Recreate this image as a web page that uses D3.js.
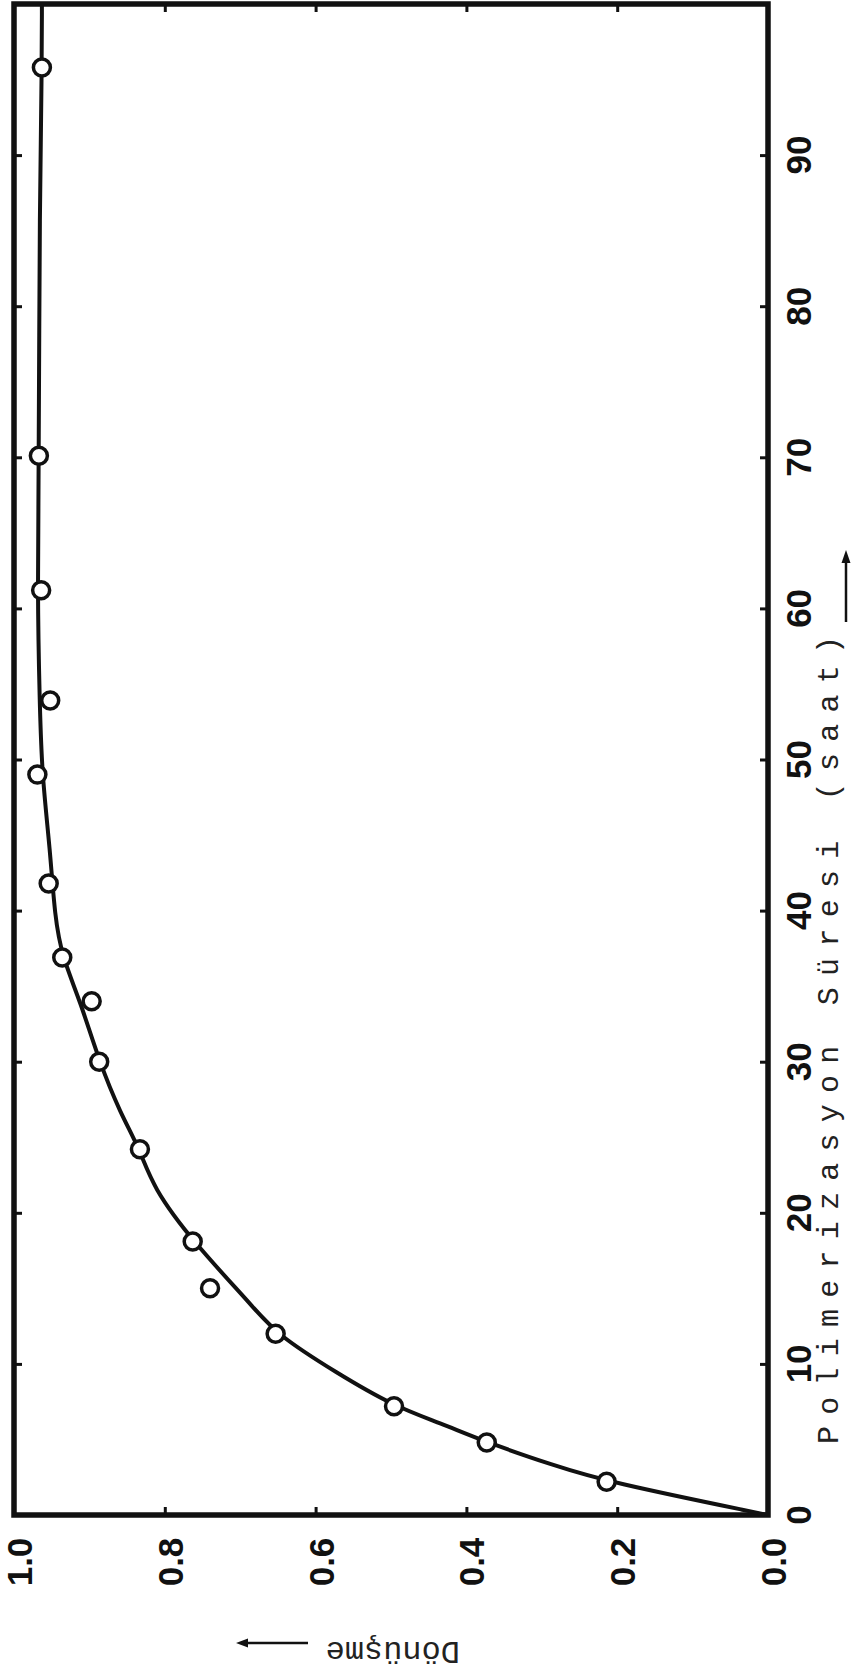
<!DOCTYPE html>
<html>
  <head>
    <meta charset="utf-8">
    <script src="https://cdn.jsdelivr.net/npm/d3@7"></script>
    <style>
      body { margin: 0px; background: #fff; }
      .tick-label {
        font-family: "Liberation Sans", Arial, sans-serif;
        font-weight: bold;
        font-size: 35px;
        fill: #111;
      }
      .axis-title {
        font-family: "Liberation Mono", "Courier New", monospace;
        font-size: 30px;
        fill: #222;
      }
      .ticks .domain { display: none; }
      .ticks .tick line { stroke: #111; stroke-width: 3px; }
    </style>
  </head>
  <body>
    <svg width="859" height="1671"></svg>
    <script>
      // measured points: polymerization time (h) vs conversion
      var hours      = [2.2, 4.8, 7.2, 12.0, 15.0, 18.1, 24.2, 30.0, 34.0, 36.9, 41.8, 49.0, 53.9, 61.2, 70.1, 95.8];
      var conversion = [0.214, 0.373, 0.496, 0.653, 0.740, 0.763, 0.833, 0.887, 0.897, 0.936, 0.954, 0.969, 0.952, 0.964, 0.967, 0.963];

      // hand drawn curve
      var curveHours      = [0, 2.2, 3.3, 4.8, 6.1, 7.2, 9.4, 12.0, 13.8, 18.1, 21.7, 24.2, 26.6, 30.0, 34.0, 36.9, 39.6, 44.0, 49.0, 53.9, 61.0, 70.1, 87.0, 95.8, 100];
      var curveConversion = [0, 0.214, 0.285, 0.373, 0.435, 0.496, 0.572, 0.653, 0.683, 0.763, 0.816, 0.833, 0.859, 0.887, 0.912, 0.936, 0.946, 0.952, 0.963, 0.966, 0.969, 0.967, 0.966, 0.963, 0.963];

      var timeTicks = [0, 10, 20, 30, 40, 50, 60, 70, 80, 90];
      var convTicks = [0, 0.2, 0.4, 0.6, 0.8, 1.0];

      var svg = d3.select('svg');

      // the page is printed sideways: time runs up, conversion runs left
      var y = d3.scaleLinear().domain([0, 100]).range([1515, 4]);
      var x = d3.scaleLinear().domain([0, 1]).range([768, 14]);

      svg.append('rect')
          .attr('x', x(1))
          .attr('y', y(100))
          .attr('width', x(0) - x(1))
          .attr('height', y(0) - y(100))
          .attr('fill', 'none')
          .attr('stroke', '#111')
          .attr('stroke-width', 5.5);

      // little inward ticks on all four sides
      svg.append('g').attr('class', 'ticks')
          .attr('transform', `translate(${x(0)},0)`)
          .call(d3.axisLeft(y).tickValues(timeTicks.slice(1)).tickSize(8).tickFormat(''));
      svg.append('g').attr('class', 'ticks')
          .attr('transform', `translate(${x(1)},0)`)
          .call(d3.axisRight(y).tickValues(timeTicks.slice(1)).tickSize(8).tickFormat(''));
      svg.append('g').attr('class', 'ticks')
          .attr('transform', `translate(0,${y(0)})`)
          .call(d3.axisTop(x).tickValues(convTicks.slice(1, -1)).tickSize(8).tickFormat(''));
      svg.append('g').attr('class', 'ticks')
          .attr('transform', `translate(0,${y(100)})`)
          .call(d3.axisBottom(x).tickValues(convTicks.slice(1, -1)).tickSize(8).tickFormat(''));

      svg.selectAll('.time-label')
        .data(timeTicks)
        .enter().append('text')
          .attr('class', 'tick-label time-label')
          .attr('text-anchor', 'middle')
          .attr('transform', d => `translate(811,${y(d)}) rotate(-90)`)
          .text(d => d);

      svg.selectAll('.conv-label')
        .data(convTicks)
        .enter().append('text')
          .attr('class', 'tick-label conv-label')
          .attr('text-anchor', 'middle')
          .attr('transform', d => `translate(${x(d) + 18},1562) rotate(-90)`)
          .text(d3.format('.1f'));

      var curvePts = curveHours.map((h, i) => [h, curveConversion[i]]);
      var line = d3.line()
          .x(d => x(d[1]))
          .y(d => y(d[0]))
          .curve(d3.curveBasis);

      svg.append('path')
          .datum(curvePts)
          .attr('d', line)
          .attr('fill', 'none')
          .attr('stroke', '#111')
          .attr('stroke-width', 4);

      svg.selectAll('circle')
        .data(hours.map((h, i) => [h, conversion[i]]))
        .enter().append('circle')
          .attr('cx', d => x(d[1]))
          .attr('cy', d => y(d[0]))
          .attr('r', 8.5)
          .attr('fill', '#fff')
          .attr('stroke', '#111')
          .attr('stroke-width', 3.5);

      // axis titles, typewritten with an arrow
      var tTitle = svg.append('g')
          .attr('transform', 'translate(838,1444) rotate(-90)');
      tTitle.append('text')
          .attr('class', 'axis-title')
          .attr('textLength', 808)
          .attr('lengthAdjust', 'spacing')
          .text('Polimerizasyon Süresi (saat)');
      tTitle.append('line')
          .attr('x1', 822).attr('x2', 888)
          .attr('y1', 8).attr('y2', 8)
          .attr('stroke', '#111').attr('stroke-width', 2.5);
      tTitle.append('path')
          .attr('d', 'M894,8 L881,3.5 L881,12.5 Z')
          .attr('fill', '#111');

      var cTitle = svg.append('g')
          .attr('transform', 'translate(460,1642) rotate(180)');
      cTitle.append('text')
          .attr('class', 'axis-title')
          .style('font-size', '32px')
          .text('Dönüşme');
      cTitle.append('line')
          .attr('x1', 152).attr('x2', 218)
          .attr('y1', -1).attr('y2', -1)
          .attr('stroke', '#111').attr('stroke-width', 2.5);
      cTitle.append('path')
          .attr('d', 'M224,-1 L212,-5.5 L212,3.5 Z')
          .attr('fill', '#111');
    </script>
  </body>
</html>
